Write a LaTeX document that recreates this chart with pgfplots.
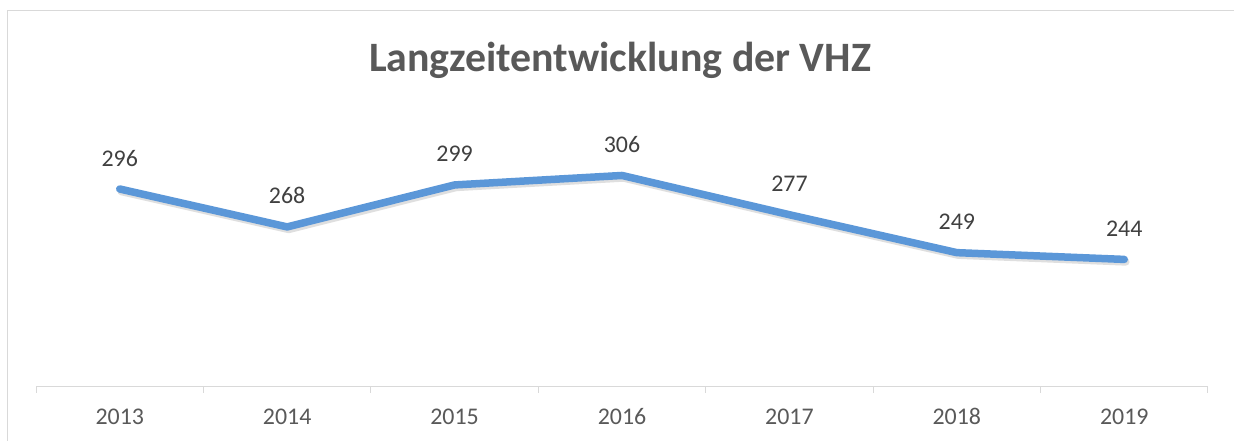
\documentclass[border=0pt]{standalone}
\usepackage{pgfplots}
\pgfplotsset{compat=1.18}
\usepackage{fontspec}
\setmainfont{Carlito}
\definecolor{lineblue}{RGB}{91,151,216}
\definecolor{titlegray}{RGB}{89,89,89}
\definecolor{labelgray}{RGB}{64,64,64}
\definecolor{axisgray}{RGB}{217,217,217}
\begin{document}
\begin{tikzpicture}[x=1bp,y=1bp]
\path[use as bounding box] (0,0) rectangle (1234,441);
\clip (0,0) rectangle (1234,441);
\fill[white] (0,0) rectangle (1234,441);
\draw[axisgray, line width=1bp] (7,-10) rectangle (1240,430);
\node[font=\fontsize{42}{48}\selectfont\bfseries, text=titlegray, anchor=base, inner sep=0pt] at (620,369) {Langzeitentwicklung der VHZ};
\begin{axis}[
  at={(622bp,189.7bp)}, anchor=center,
  scale only axis, width=1172bp, height=270.8bp,
  xmin=-0.5, xmax=6.5, ymin=150, ymax=350,
  axis y line=none, axis x line=bottom,
  x axis line style={-, axisgray, line width=1bp},
  xtick={0,1,2,3,4,5,6},
  xticklabels={2013,2014,2015,2016,2017,2018,2019},
  minor xtick={-0.5,0.5,1.5,2.5,3.5,4.5,5.5,6.5},
  major tick length=0pt, minor tick length=6bp, tick align=outside,
  minor tick style={axisgray, line width=1bp},
  major tick style={draw=none},
  xticklabel style={font=\fontsize{24}{28}\selectfont, text=titlegray, anchor=base, yshift=-38bp},
  /pgf/number format/assume math mode=true,
  clip=false,
]
\addplot[gray, opacity=0.25, line width=7.5bp, line cap=round, line join=round, no marks, forget plot,
  transform canvas={xshift=1.5bp, yshift=-2.5bp}]
  coordinates {(0,296) (1,268) (2,299) (3,306) (4,277) (5,249) (6,244)};
\addplot[lineblue, line width=7.5bp, line cap=round, line join=round, no marks,
  nodes near coords,
  every node near coord/.append style={font=\fontsize{24}{28}\selectfont, text=labelgray, anchor=base, yshift=23bp, inner sep=0pt}]
  coordinates {(0,296) (1,268) (2,299) (3,306) (4,277) (5,249) (6,244)};
\end{axis}
\end{tikzpicture}
\end{document}
